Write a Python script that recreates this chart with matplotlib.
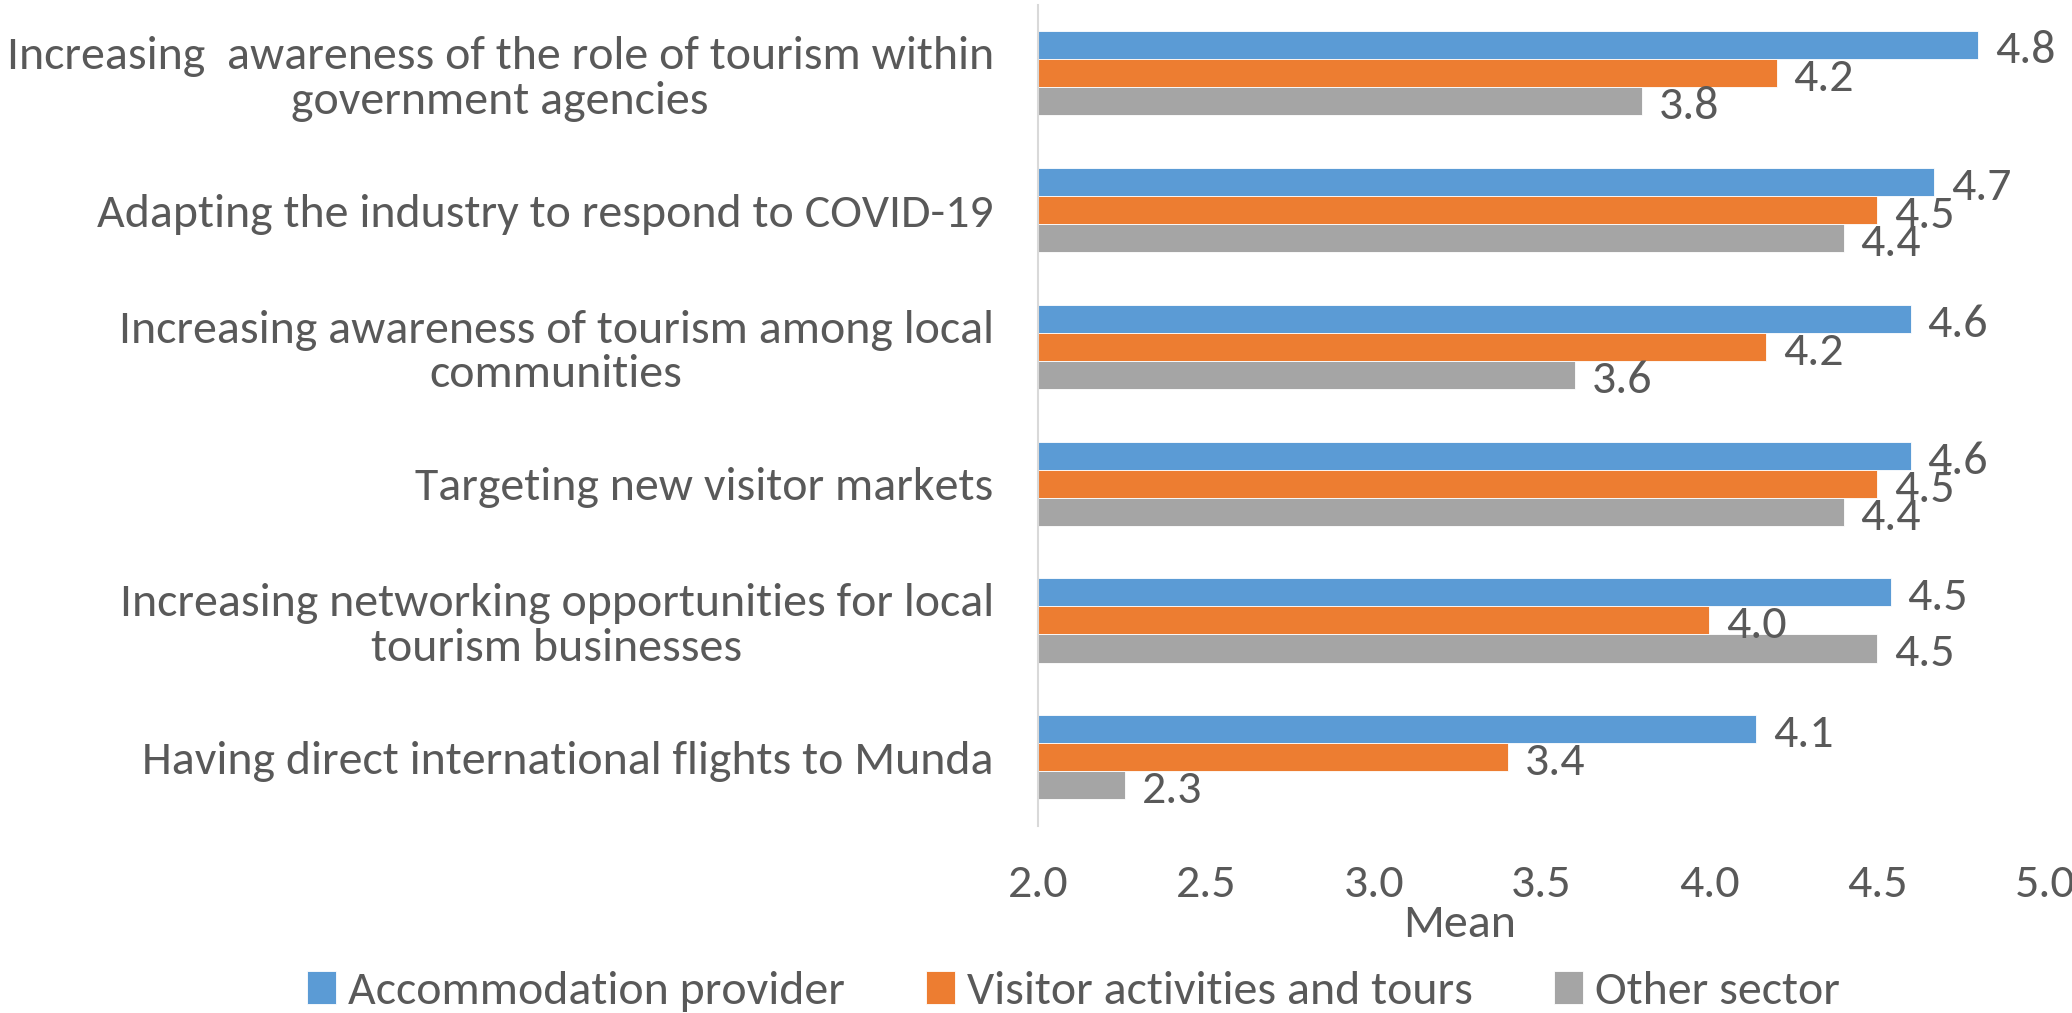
import numpy as np
import matplotlib.pyplot as plt
from matplotlib import font_manager

# Narrow, Calibri-like face for all chart text
names = {f.name for f in font_manager.fontManager.ttflist}
face = next((n for n in ["Carlito", "Liberation Sans Narrow", "Roboto Condensed", "Lato"] if n in names),
            "DejaVu Sans")
plt.rcParams["font.family"] = [face, "DejaVu Sans"]

categories = [
    "Increasing  awareness of the role of tourism within\ngovernment agencies",
    "Adapting the industry to respond to COVID-19",
    "Increasing awareness of tourism among local\ncommunities",
    "Targeting new visitor markets",
    "Increasing networking opportunities for local\ntourism businesses",
    "Having direct international flights to Munda",
]
accommodation = [4.80, 4.67, 4.60, 4.60, 4.54, 4.14]
activities = [4.20, 4.50, 4.17, 4.50, 4.00, 3.40]
other = [3.80, 4.40, 3.60, 4.40, 4.50, 2.26]
series_names = ["Accommodation provider", "Visitor activities and tours", "Other sector"]
colors = ["#5B9BD5", "#ED7D31", "#A5A5A5"]
xticks = [2.0, 2.5, 3.0, 3.5, 4.0, 4.5, 5.0]

text_color = "#595959"

fig = plt.figure(figsize=(20.72, 10.13), dpi=100)

# size the text so the longest category line spans ~990 px
probe = fig.text(0, 0, categories[0].split("\n")[0], fontsize=32)
w = probe.get_window_extent(fig.canvas.get_renderer()).width
probe.remove()
fs = 32 * 990 / w

ax = fig.add_axes([0.501, 0.185, 0.486, 0.81])

y = np.arange(len(categories))
h = 0.205
for k, (vals, name, c) in enumerate(zip([accommodation, activities, other], series_names, colors)):
    pos = y + (k - 1) * h
    widths = np.array(vals) - 2.0
    ax.barh(pos, widths, left=2.0, height=h, color=c, label=name,
            edgecolor="white", linewidth=0.6)
    for p, v in zip(pos, vals):
        ax.text(v + 0.05, p + 0.04, f"{v:.1f}", va="center", ha="left",
                fontsize=fs, color=text_color)

ax.set_xlim(2.0, 5.0)
ax.set_ylim(len(categories) - 0.5, -0.5)
ax.set_xticks(xticks)
ax.set_xticklabels([f"{t:.1f}" for t in xticks])
ax.set_yticks(y)
ax.set_yticklabels(categories, multialignment="center", linespacing=1.1)
ax.tick_params(axis="both", length=0, labelsize=fs, labelcolor=text_color)
ax.tick_params(axis="x", pad=28)
ax.tick_params(axis="y", pad=32)
for s in ["top", "right", "bottom"]:
    ax.spines[s].set_visible(False)
ax.spines["left"].set_color("#D9D9D9")
ax.spines["left"].set_linewidth(1.5)

ax.set_xlabel("Mean", fontsize=fs, color=text_color)
ax.xaxis.set_label_coords(0.419, -0.121)
ax.xaxis.label.set_va("center")

fig.legend(loc="center", bbox_to_anchor=(0.518, 0.021), ncol=3, frameon=False,
           fontsize=fs, handlelength=0.6, handleheight=0.7, handletextpad=0.25,
           columnspacing=1.7, labelcolor=text_color)

fig.savefig("out.png", dpi=100)
